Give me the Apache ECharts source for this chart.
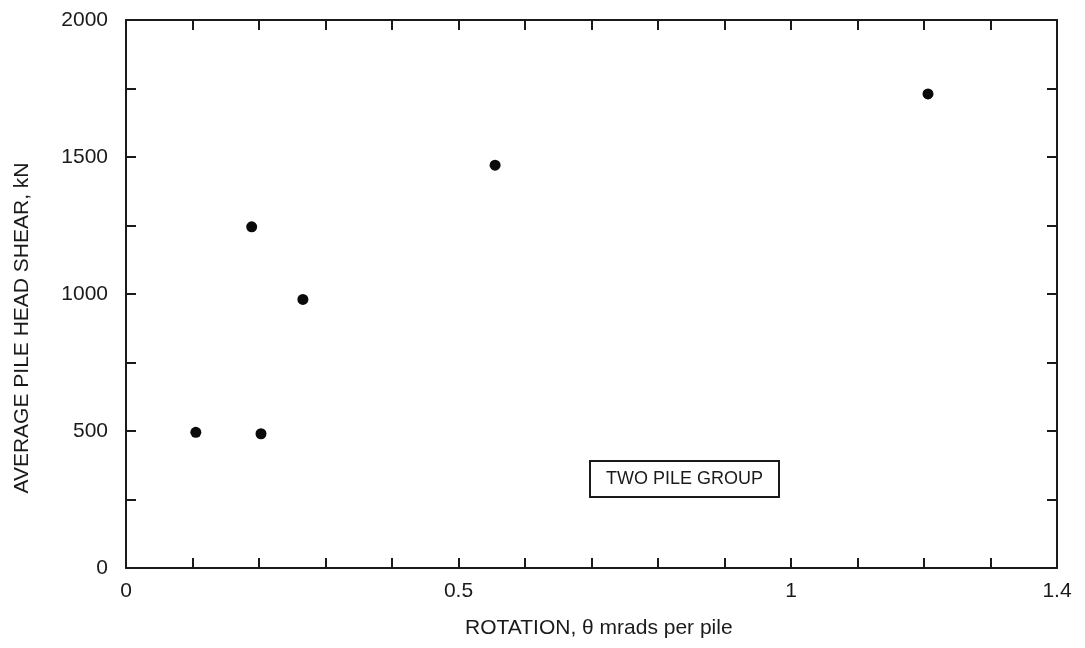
<!DOCTYPE html>
<html>
<head>
<meta charset="utf-8">
<script src="https://cdn.jsdelivr.net/npm/echarts@6/dist/echarts.min.js"></script>
<style>
html,body{margin:0;padding:0;background:#fff;}
#chart{width:1085px;height:648px;}
</style>
</head>
<body>
<div id="chart"></div>
<script>
// Data
const xValues = [0.105, 0.189, 0.203, 0.266, 0.555, 1.206];
const yValues = [495, 1245, 490, 980, 1470, 1730];
const xTickLabels = ['0', '0.5', '1', '1.4'];
const yTickLabels = ['0', '500', '1000', '1500', '2000'];
const xTitle = 'ROTATION, \u03b8 mrads per pile';
const yTitle = 'AVERAGE PILE HEAD SHEAR, kN';
const noteText = 'TWO PILE GROUP';

const FONT = '"Liberation Sans", Arial, Helvetica, sans-serif';
const INK = '#1a1a1a';

const points = xValues.map((x, i) => [x, yValues[i]]);

function near(v, list) {
  for (const s of list) { if (Math.abs(v - parseFloat(s)) < 1e-6) return s; }
  return '';
}

const axisLineStyle = { show: true, onZero: false, lineStyle: { color: INK, width: 2 } };
const tickStyle = { show: true, inside: true, length: 10, lineStyle: { color: INK, width: 2 } };

const chart = echarts.init(document.getElementById('chart'), null, { renderer: 'canvas' });
chart.setOption({
  backgroundColor: '#ffffff',
  animation: false,
  grid: { left: 126, right: 28, top: 20, bottom: 80, containLabel: false },
  xAxis: [
    {
      type: 'value', position: 'bottom', min: 0, max: 1.4, interval: 0.1,
      axisLine: axisLineStyle, axisTick: tickStyle, splitLine: { show: false },
      axisLabel: { show: true, margin: 13, color: INK, fontSize: 21, fontFamily: FONT,
        showMinLabel: true, showMaxLabel: true,
        formatter: v => near(v, xTickLabels) }
    },
    {
      type: 'value', position: 'top', min: 0, max: 1.4, interval: 0.1,
      axisLine: axisLineStyle, axisTick: tickStyle, splitLine: { show: false },
      axisLabel: { show: false }
    }
  ],
  yAxis: [
    {
      type: 'value', position: 'left', min: 0, max: 2000, interval: 250,
      axisLine: axisLineStyle, axisTick: tickStyle, splitLine: { show: false },
      axisLabel: { show: true, margin: 18, color: INK, fontSize: 21, fontFamily: FONT,
        formatter: v => near(v, yTickLabels) }
    },
    {
      type: 'value', position: 'right', min: 0, max: 2000, interval: 250,
      axisLine: axisLineStyle, axisTick: tickStyle, splitLine: { show: false },
      axisLabel: { show: false }
    }
  ],
  series: [
    {
      type: 'scatter', xAxisIndex: 0, yAxisIndex: 0,
      data: points, symbol: 'circle', symbolSize: 11,
      itemStyle: { color: '#0a0a0a', opacity: 1 }
    }
  ],
  graphic: [
    {
      type: 'text', left: 465, top: 618,
      style: { text: xTitle, fill: INK, fontSize: 21, fontFamily: FONT }
    },
    {
      type: 'text', x: 22, y: 328, rotation: Math.PI / 2,
      style: { text: yTitle, fill: INK, fontSize: 21, fontFamily: FONT, align: 'center', verticalAlign: 'middle' }
    },
    {
      type: 'group', left: 589, top: 460,
      children: [
        { type: 'rect', shape: { x: 0, y: 0, width: 189, height: 36 },
          style: { fill: '#fff', stroke: INK, lineWidth: 2 } },
        { type: 'text', x: 94.5, y: 18,
          style: { text: noteText, fill: INK, fontSize: 18, fontFamily: FONT, align: 'center', verticalAlign: 'middle' } }
      ]
    }
  ]
});
</script>
</body>
</html>
